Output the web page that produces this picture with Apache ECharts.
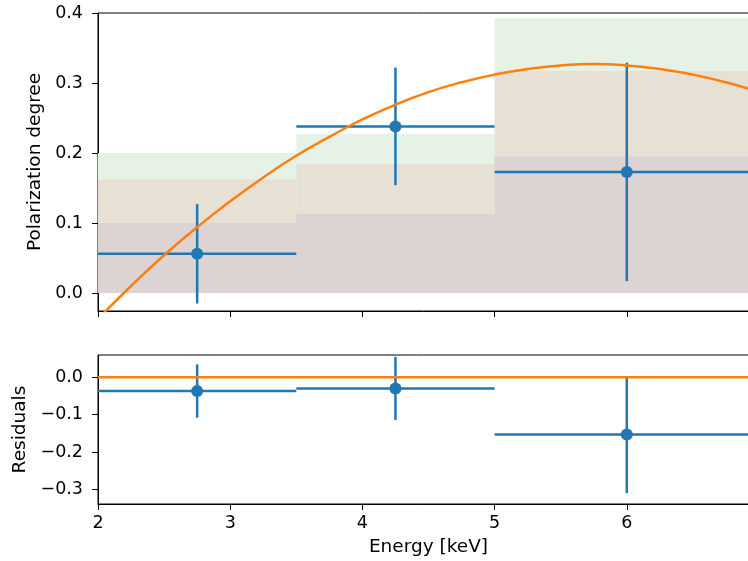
<!DOCTYPE html>
<html><head><meta charset="utf-8">
<script src="https://cdn.jsdelivr.net/npm/echarts@6/dist/echarts.min.js"></script>
<style>html,body{margin:0;padding:0;background:#fff}#c{width:748px;height:561px}</style>
</head><body><div id="c"></div>
<script>
// ---- data ----
const binEdges = [2.0, 3.5, 5.0, 7.0];
const energy = [2.75, 4.25, 6.0];
const polDeg = [0.056, 0.238, 0.173];
const polErr = [0.071, 0.084, 0.156];
const residuals = [-0.037, -0.030, -0.153];
const bandOuter = [0.200, 0.227, 0.393];
const bandMiddle = [0.162, 0.184, 0.317];
const bandInner = [0.100, 0.113, 0.195];
const modelEnergy = [2.0, 2.25, 2.5, 2.75, 3.0, 3.25, 3.5, 3.75, 4.0, 4.25, 4.5, 4.75, 5.0, 5.25, 5.5, 5.75, 6.0, 6.25, 6.5, 6.75, 7.0];
const modelPol = [-0.037, 0.010, 0.054, 0.094, 0.131, 0.165, 0.196, 0.223, 0.248, 0.269, 0.287, 0.301, 0.312, 0.320, 0.325, 0.327, 0.325, 0.320, 0.312, 0.301, 0.287];
const xTicks = [2, 3, 4, 5, 6, 7];
const topYTicks = [0.0, 0.1, 0.2, 0.3, 0.4];
const bottomYTicks = [-0.3, -0.2, -0.1, 0.0];

const BLUE = '#1f77b4', ORANGE = '#ff7f0e';
const FONT = 'DejaVu Sans';
const FS = 17.5, NFS = 18.5;
const LW = 2.5;

function bandData(tops) {
  return tops.map((t, i) => [binEdges[i], binEdges[i + 1], t]);
}
function bandSeries(tops, color, gi) {
  return {
    type: 'custom', xAxisIndex: gi, yAxisIndex: gi, z: 1, clip: true, silent: true,
    data: bandData(tops), encode: { x: [0, 1], y: 2 },
    renderItem: function (params, api) {
      const p0 = api.coord([api.value(0), api.value(2)]);
      const p1 = api.coord([api.value(1), 0]);
      return { type: 'rect', shape: { x: p0[0], y: p0[1], width: p1[0] - p0[0], height: p1[1] - p0[1] },
               style: { fill: color } };
    }
  };
}
function errData(vals) {
  return vals.map((v, i) => [binEdges[i], binEdges[i + 1], energy[i], v, polErr[i]]);
}
function errSeries(vals, gi) {
  return {
    type: 'custom', xAxisIndex: gi, yAxisIndex: gi, z: 3, clip: true, silent: true,
    data: errData(vals), encode: { x: [0, 1, 2], y: 3 },
    renderItem: function (params, api) {
      const y = api.value(3), e = api.value(4), x = api.value(2);
      const a = api.coord([api.value(0), y]), b = api.coord([api.value(1), y]);
      const c = api.coord([x, y - e]), d = api.coord([x, y + e]);
      const st = { stroke: BLUE, lineWidth: LW, fill: null };
      return { type: 'group', children: [
        { type: 'line', shape: { x1: a[0], y1: a[1], x2: b[0], y2: b[1] }, style: st },
        { type: 'line', shape: { x1: c[0], y1: c[1], x2: d[0], y2: d[1] }, style: st }
      ] };
    }
  };
}
function pointSeries(vals, gi) {
  return { type: 'scatter', xAxisIndex: gi, yAxisIndex: gi, z: 4, silent: true,
    symbol: 'circle', symbolSize: 12, itemStyle: { color: BLUE, opacity: 1 },
    data: vals.map((v, i) => [energy[i], v]) };
}
const axLine = { show: true, onZero: false, lineStyle: { color: '#000', width: 1 } };
const axTick = { show: true, length: 6, lineStyle: { color: '#000', width: 1 } };
const lbl = { color: '#000', fontFamily: FONT, fontSize: FS };
const nameLbl = { color: '#000', fontFamily: FONT, fontSize: NFS };
function fmt(v) { return (v < -1e-9 ? '\u2212' : '') + Math.abs(v).toFixed(1); }

const chart = echarts.init(document.getElementById('c'), null, { renderer: 'canvas' });
chart.setOption({
  backgroundColor: '#fff',
  animation: false,
  textStyle: { fontFamily: FONT },
  grid: [
    { left: 98, top: 13, width: 661, height: 298, outerBoundsMode: 'none', containLabel: false,
      show: true, borderColor: '#000', borderWidth: 1, backgroundColor: 'transparent' },
    { left: 98, top: 355, width: 661, height: 149, outerBoundsMode: 'none', containLabel: false,
      show: true, borderColor: '#000', borderWidth: 1, backgroundColor: 'transparent' }
  ],
  xAxis: [
    { type: 'value', gridIndex: 0, min: 2, max: 7, interval: 1, axisLine: axLine, axisTick: axTick,
      axisLabel: { show: false }, splitLine: { show: false } },
    { type: 'value', gridIndex: 1, min: 2, max: 7, interval: 1, axisLine: axLine, axisTick: axTick,
      axisLabel: Object.assign({ margin: 10, formatter: v => String(v) }, lbl), splitLine: { show: false },
      name: 'Energy [keV]', nameLocation: 'middle', nameGap: 34, nameTextStyle: nameLbl }
  ],
  yAxis: [
    { type: 'value', gridIndex: 0, min: -0.0257, max: 0.4, axisLine: axLine,
      axisTick: Object.assign({ customValues: topYTicks }, axTick),
      axisLabel: Object.assign({ customValues: topYTicks, margin: 15, formatter: fmt }, lbl),
      splitLine: { show: false },
      name: 'Polarization degree', nameLocation: 'middle', nameGap: 52, nameRotate: 90, nameTextStyle: nameLbl },
    { type: 'value', gridIndex: 1, min: -0.338, max: 0.059, axisLine: axLine,
      axisTick: Object.assign({ customValues: bottomYTicks }, axTick),
      axisLabel: Object.assign({ customValues: bottomYTicks, margin: 15, formatter: fmt }, lbl),
      splitLine: { show: false },
      name: 'Residuals', nameLocation: 'middle', nameGap: 66, nameRotate: 90, nameTextStyle: nameLbl }
  ],
  series: [
    bandSeries(bandOuter, '#e7f2e6', 0),
    bandSeries(bandMiddle, '#e6e0d5', 0),
    bandSeries(bandInner, '#ddd3d3', 0),
    errSeries(polDeg, 0),
    pointSeries(polDeg, 0),
    { type: 'line', xAxisIndex: 0, yAxisIndex: 0, z: 5, smooth: true, showSymbol: false, silent: true, clip: true,
      lineStyle: { color: ORANGE, width: LW }, data: modelEnergy.map((x, i) => [x, modelPol[i]]) },
    errSeries(residuals, 1),
    pointSeries(residuals, 1),
    { type: 'line', xAxisIndex: 1, yAxisIndex: 1, z: 5, showSymbol: false, silent: true, clip: true,
      lineStyle: { color: ORANGE, width: LW }, data: [[binEdges[0], 0], [binEdges[3], 0]] }
  ]
});
</script></body></html>
